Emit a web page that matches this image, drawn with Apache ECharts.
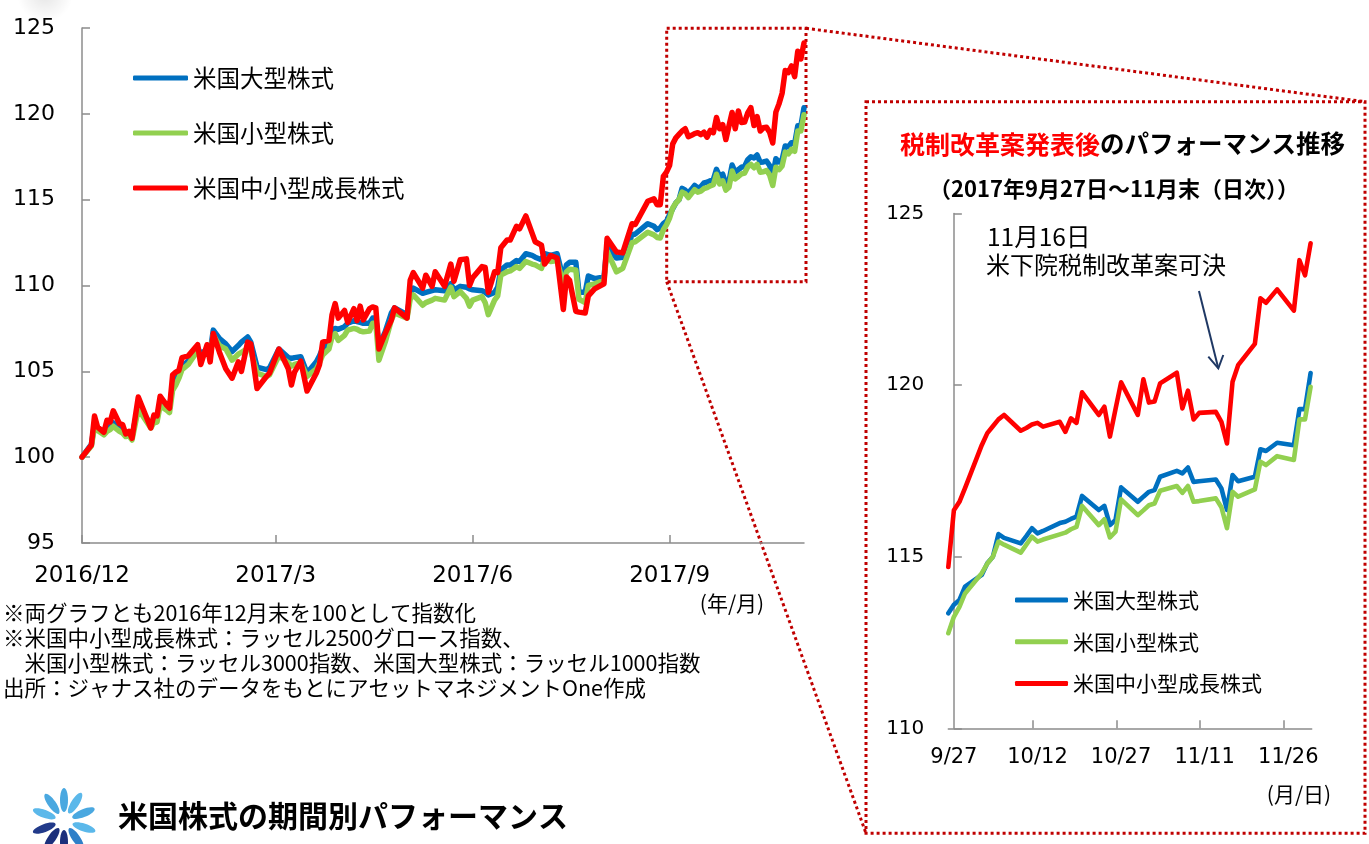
<!DOCTYPE html>
<html>
<head>
<meta charset="utf-8">
<script src="https://cdn.jsdelivr.net/npm/echarts@6/dist/echarts.min.js"></script>
<style>
  html, body { margin: 0; padding: 0; background: #fff; }
  #chart { width: 1369px; height: 844px; }
</style>
</head>
<body>
<div id="chart"></div>
<script>
const seriesNames = ['米国大型株式', '米国小型株式', '米国中小型成長株式'];
const seriesColors = ['#0070C0', '#92D050', '#FF0000'];

// left chart: x = trading-day index counted from 2016/12 end
const mainTickIdx = [0, 62, 125, 188];
const mainTickLabels = ['2016/12', '2017/3', '2017/6', '2017/9'];
const mainIdx = [0, 3, 4, 5, 7, 8, 9, 10, 12, 13, 14, 15, 16, 18, 22, 23, 24, 25, 27, 28, 29, 30, 31, 32, 34, 37, 38, 40, 41, 42,
  44, 46, 48, 50, 51, 53, 54, 56, 59, 60, 63, 66, 67, 68, 70, 72, 75, 76, 77, 79, 80, 81, 82, 84, 85, 87, 88, 89, 90, 92,
  93, 94, 95, 97, 99, 100, 104, 105, 106, 109, 110, 112, 113, 116, 118, 119, 121, 123, 124, 125, 128, 129, 130, 132, 133, 134, 136, 137, 139, 140,
  142, 144, 145, 147, 148, 150, 152, 154, 155, 156, 158, 159, 161, 162, 164, 167, 168, 171, 173, 176, 177, 181, 183, 184];
const mainLarge = [100.0, 100.75, 101.9, 101.7, 101.5, 101.75, 101.8, 102.0, 101.65, 101.6, 101.4, 101.45, 101.2, 103.0, 101.9, 102.2, 102.3, 103.2, 103.0, 102.9, 104.2, 104.5, 104.8, 105.3, 105.6, 106.4, 106.0, 106.3, 106.1, 107.4,
  106.9, 106.6, 106.15, 106.5, 106.7, 107.0, 106.7, 105.25, 105.1, 105.2, 106.3, 105.8, 105.75, 105.8, 105.85, 104.9, 105.55, 105.9, 106.35, 106.6, 107.4, 107.5, 107.45, 107.6, 107.8, 107.95, 107.9, 107.85, 107.8, 107.8,
  108.1, 108.1, 106.45, 107.3, 108.4, 108.7, 108.3, 109.5, 109.85, 109.55, 109.6, 109.7, 109.75, 109.7, 110.1, 109.75, 109.95, 109.9, 109.8, 109.75, 109.7, 109.6, 109.45, 109.6, 109.9, 110.9, 111.2, 111.2, 111.45, 111.4,
  111.85, 111.75, 111.65, 111.5, 111.85, 111.75, 111.85, 110.35, 111.2, 111.35, 111.35, 109.6, 109.6, 110.55, 110.4, 110.5, 112.3, 111.6, 111.65, 112.95, 113.0, 113.6, 113.45, 113.25];
const mainSmall = [100.0, 100.65, 101.75, 101.55, 101.3, 101.5, 101.6, 101.8, 101.5, 101.4, 101.2, 101.25, 101.0, 102.8, 101.7, 102.0, 102.05, 103.0, 102.75, 102.6, 103.9, 104.2, 104.6, 105.1, 105.4, 106.2, 105.8, 106.1, 105.9, 107.1,
  106.5, 106.3, 105.65, 106.0, 106.1, 106.35, 106.2, 104.9, 104.7, 104.8, 105.9, 105.5, 105.3, 105.4, 105.5, 104.7, 105.15, 105.5, 105.95, 106.3, 107.0, 107.2, 106.8, 107.1, 107.4, 107.5, 107.45, 107.35, 107.3, 107.35,
  107.8, 107.8, 105.65, 106.7, 108.0, 108.4, 108.1, 109.2, 109.45, 108.85, 109.0, 109.15, 109.25, 109.15, 109.9, 109.35, 109.65, 109.25, 108.8, 109.15, 109.35, 109.0, 108.3, 109.15, 109.4, 110.6, 110.8, 110.85, 111.1, 111.0,
  111.4, 111.25, 111.2, 111.0, 111.55, 111.4, 111.45, 110.1, 110.8, 110.95, 110.9, 109.2, 109.0, 110.0, 110.1, 110.3, 112.0, 110.8, 111.0, 112.5, 112.55, 113.1, 112.95, 112.8];
const mainGrowth = [100.0, 100.7, 102.4, 101.75, 101.45, 102.15, 102.05, 102.7, 101.95, 101.9, 101.35, 101.5, 101.1, 103.5, 101.7, 102.45, 102.4, 103.55, 103.05, 102.85, 104.8, 104.95, 105.05, 105.8, 105.9, 106.55, 105.4, 106.55, 105.55, 107.2,
  106.1, 105.15, 104.6, 105.55, 105.0, 106.7, 106.6, 104.0, 104.7, 104.9, 106.3, 105.15, 104.2, 104.95, 105.6, 103.85, 104.9, 105.4, 106.7, 106.8, 108.3, 108.95, 108.1, 108.55, 107.85, 108.65, 107.95, 108.8, 108.0, 108.65,
  108.75, 108.7, 106.3, 107.2, 108.0, 108.7, 108.1, 110.3, 110.75, 109.85, 110.6, 109.95, 110.8, 109.95, 111.25, 110.25, 111.5, 111.55, 110.0, 110.45, 111.1, 111.05, 109.6, 110.8, 110.75, 112.2, 112.65, 112.65, 113.45, 113.3,
  114.05, 113.05, 112.55, 112.35, 111.25, 111.75, 111.6, 108.6, 110.5, 110.3, 108.5, 108.45, 108.4, 109.4, 109.8, 110.1, 112.75, 111.95, 111.9, 113.6, 113.55, 114.9, 115.05, 114.7];

// right chart: daily closes from 9/26 to 11/30 (trading days)
const zoomDates = ['9/26', '9/27', '9/28', '9/29', '10/2', '10/3', '10/4', '10/5', '10/6', '10/9', '10/10', '10/11', '10/12', '10/13',
  '10/16', '10/17', '10/18', '10/19', '10/20', '10/23', '10/24', '10/25', '10/26', '10/27', '10/30', '10/31', '11/1', '11/2', '11/3',
  '11/6', '11/7', '11/8', '11/9', '11/10', '11/13', '11/14', '11/15', '11/16', '11/17', '11/20', '11/21', '11/22', '11/24',
  '11/27', '11/28', '11/29', '11/30'];
const zoomLarge = [113.35, 113.6, 113.74, 114.13, 114.47, 114.81, 115.0, 115.66, 115.55, 115.39, 115.6, 115.83, 115.68, 115.75,
  115.98, 116.02, 116.1, 116.17, 116.77, 116.36, 116.48, 115.92, 116.07, 117.02, 116.6, 116.75, 116.89, 116.94, 117.33,
  117.5, 117.43, 117.6, 117.18, 117.2, 117.25, 116.99, 116.36, 117.38, 117.2, 117.33, 118.13, 118.08, 118.32,
  118.25, 119.3, 119.3, 120.35];
const zoomSmall = [112.77, 113.25, 113.54, 113.93, 114.52, 114.8, 115.0, 115.44, 115.35, 115.12, 115.35, 115.58, 115.44, 115.5,
  115.65, 115.7, 115.8, 115.87, 116.48, 115.92, 116.09, 115.56, 115.73, 116.67, 116.21, 116.35, 116.5, 116.55, 116.92,
  117.06, 116.86, 117.06, 116.6, 116.62, 116.7, 116.44, 115.83, 116.89, 116.75, 116.96, 117.77, 117.67, 117.93,
  117.82, 119.0, 119.0, 119.95];
const zoomGrowth = [114.7, 116.35, 116.6, 117.0, 118.25, 118.6, 118.8, 119.0, 119.13, 118.67, 118.75, 118.85, 118.9, 118.79,
  118.93, 118.64, 119.03, 118.9, 119.79, 119.13, 119.37, 118.5, 119.3, 120.08, 119.13, 120.17, 119.49, 119.52, 120.05,
  120.36, 119.32, 119.84, 119.0, 119.19, 119.22, 118.93, 118.3, 120.1, 120.58, 121.2, 122.53, 122.4, 122.79,
  122.17, 123.64, 123.2, 124.13];
const zoomTickLabels = ['9/27', '10/12', '10/27', '11/11', '11/26'];
const zoomFirstIdx = 185; // 9/26 on the left chart's trading-day index

const notes = [
  '※両グラフとも2016年12月末を100として指数化',
  '※米国中小型成長株式：ラッセル2500グロース指数、',
  '　米国小型株式：ラッセル3000指数、米国大型株式：ラッセル1000指数',
  '出所：ジャナス社のデータをもとにアセットマネジメントOne作成'
];

function dayOffset(md) {
  const [m, d] = md.split('/').map(Number);
  return Math.round((Date.UTC(2017, m - 1, d) - Date.UTC(2017, 8, 27)) / 86400000);
}

const zoomDays = zoomDates.map(dayOffset);
const zoomTickDays = zoomTickLabels.map(dayOffset);
const tailIdx = zoomDates.map((_, k) => zoomFirstIdx + k);

const mainData = [mainLarge, mainSmall, mainGrowth].map((vals, s) => {
  const zoomVals = [zoomLarge, zoomSmall, zoomGrowth][s];
  return mainIdx.map((x, k) => [x, vals[k]]).concat(tailIdx.map((x, k) => [x, zoomVals[k]]));
});
const zoomData = [zoomLarge, zoomSmall, zoomGrowth].map(vals => zoomDays.map((d, k) => [d, vals[k]]));

const JP = '"Noto Sans CJK JP", "Noto Sans CJK SC", sans-serif';
const NUM = '"DejaVu Sans", Verdana, sans-serif';
const AXIS = '#8c8c8c';
const DOT = '#C00000';

const chart = echarts.init(document.getElementById('chart'));

function lineSeries(i, gridIdx, data, width) {
  return {
    name: seriesNames[i], type: 'line', xAxisIndex: gridIdx, yAxisIndex: gridIdx,
    data, showSymbol: false, symbol: 'none', silent: true, clip: true,
    color: seriesColors[i],
    lineStyle: { color: seriesColors[i], width, cap: 'round', join: 'round' },
  };
}

// logo petals: angle (deg, clockwise from up) and colour
const petals = [
  [0, '#4aa8e0'], [32, '#5bb8ea'], [68, '#4aa8e0'], [108, '#5bb8ea'], [145, '#2f7fc8'],
  [180, '#1b2f7c'], [215, '#1b2f7c'], [250, '#223a8a'], [290, '#5bb8ea'], [325, '#4aa8e0'],
];

const textEl = (text, x, y, font, fill, align) => ({
  type: 'text', silent: true,
  style: { text, x, y, font, fill: fill || '#000', textAlign: align || 'left', align: align || 'left',
    textVerticalAlign: 'middle', verticalAlign: 'middle' },
});

const graphics = [
  // faint shadow in top-left corner
  { type: 'ellipse', silent: true, shape: { cx: 45, cy: -6, rx: 80, ry: 28 },
    style: { fill: { type: 'radial', x: 0.5, y: 0.5, r: 0.5,
      colorStops: [{ offset: 0, color: 'rgba(0,0,0,0.10)' }, { offset: 1, color: 'rgba(0,0,0,0)' }] } } },
  // dotted zoom box and connectors
  { type: 'rect', silent: true, shape: { x: 666.7, y: 28.3, width: 139.3, height: 253.4 },
    style: { fill: 'none', stroke: DOT, lineWidth: 3, lineDash: [3, 3] } },
  { type: 'rect', silent: true, shape: { x: 866, y: 101.7, width: 499, height: 731.6 },
    style: { fill: 'none', stroke: DOT, lineWidth: 3, lineDash: [3, 3] } },
  { type: 'line', silent: true, shape: { x1: 806, y1: 28.3, x2: 1365, y2: 101.7 },
    style: { stroke: DOT, lineWidth: 3, lineDash: [3, 3] } },
  { type: 'line', silent: true, shape: { x1: 666.7, y1: 281.7, x2: 866, y2: 833.3 },
    style: { stroke: DOT, lineWidth: 3, lineDash: [3, 3] } },
  // right panel titles
  textEl('税制改革案発表後', 1100, 144, 'bold 25px ' + JP, '#FF0000', 'right'),
  textEl('のパフォーマンス推移', 1100, 144, 'bold 24.5px ' + JP, '#000', 'left'),
  textEl('（2017年9月27日～11月末（日次））', 1114, 189, 'bold 22px ' + JP, '#000', 'center'),
  // annotation
  textEl('11月16日', 987, 237, '24.5px ' + JP),
  textEl('米下院税制改革案可決', 986, 265, '24px ' + JP),
  { type: 'line', silent: true, shape: { x1: 1199, y1: 291, x2: 1218.3, y2: 368.3 },
    style: { stroke: '#1F3864', lineWidth: 2 } },
  { type: 'polyline', silent: true, shape: { points: [[1208.3, 356.7], [1218.3, 368.3], [1223.3, 355]] },
    style: { stroke: '#1F3864', lineWidth: 2, fill: 'none' } },
  // axis units
  textEl('(年/月)', 732, 603, '21px ' + JP, '#000', 'center'),
  textEl('(月/日)', 1299, 794, '21px ' + JP, '#000', 'center'),
  // notes
  ...notes.map((t, k) => textEl(t, 3, 613 + k * 25, '21.5px ' + JP)),
  // bottom heading with logo
  textEl('米国株式の期間別パフォーマンス', 118, 816, 'bold 30px ' + JP),
  { type: 'group', x: 64, y: 821, silent: true,
    children: petals.map(([deg, c]) => ({
      type: 'ellipse', rotation: -deg * Math.PI / 180,
      shape: { cx: 0, cy: -21, rx: 4, ry: 12 },
      style: { fill: c },
    })) },
];

chart.setOption({
  animation: false,
  backgroundColor: '#fff',
  grid: [
    { left: 82, top: 28, width: 722, height: 515 },
    { left: 948.3, top: 213.5, width: 363.4, height: 514.8 },
  ],
  xAxis: [
    {
      type: 'value', gridIndex: 0, min: 0, max: 231,
      axisLine: { show: true, onZero: false, lineStyle: { color: AXIS, width: 1.5 } },
      axisTick: { show: true, inside: true, length: 8, customValues: mainTickIdx, lineStyle: { color: AXIS, width: 1.5 } },
      axisLabel: {
        customValues: mainTickIdx, margin: 22, color: '#000', fontSize: 23, fontFamily: NUM,
        formatter: (v) => mainTickLabels[mainTickIdx.indexOf(v)] || '',
      },
      splitLine: { show: false },
    },
    {
      type: 'value', gridIndex: 1, min: -1, max: 64.2,
      axisLine: { show: true, onZero: false, lineStyle: { color: AXIS, width: 1.5 } },
      axisTick: { show: true, inside: true, length: 8, customValues: zoomTickDays.slice(1).map(d => d - 0.8), lineStyle: { color: AXIS, width: 1.5 } },
      axisLabel: {
        customValues: zoomTickDays, margin: 19, color: '#000', fontSize: 21, fontFamily: NUM,
        formatter: (v) => zoomTickLabels[zoomTickDays.indexOf(v)] || '',
      },
      splitLine: { show: false },
    },
  ],
  yAxis: [
    {
      type: 'value', gridIndex: 0, min: 95, max: 125, interval: 5,
      axisLine: { show: true, lineStyle: { color: AXIS, width: 1.5 } },
      axisTick: { show: true, inside: true, length: 8, lineStyle: { color: AXIS, width: 1.5 } },
      axisLabel: { margin: 27, color: '#000', fontSize: 22, fontFamily: NUM },
      splitLine: { show: false },
    },
    {
      type: 'value', gridIndex: 1, min: 110, max: 125, interval: 5,
      axisLine: { show: true, lineStyle: { color: AXIS, width: 1.5 } },
      axisTick: { show: true, inside: true, length: 8, lineStyle: { color: AXIS, width: 1.5 } },
      axisLabel: { margin: 24, color: '#000', fontSize: 20, fontFamily: NUM },
      splitLine: { show: false },
    },
  ],
  legend: [
    {
      orient: 'vertical', left: 133, top: 66, padding: 0, itemWidth: 55, itemHeight: 5, itemGap: 31,
      icon: 'roundRect', selectedMode: false, data: seriesNames,
      textStyle: { fontSize: 23.5, lineHeight: 24, color: '#000', fontFamily: JP },
    },
    {
      orient: 'vertical', left: 1015, top: 589, padding: 0, itemWidth: 53, itemHeight: 5, itemGap: 19.7,
      icon: 'roundRect', selectedMode: false, data: seriesNames,
      textStyle: { fontSize: 21, lineHeight: 22, color: '#000', fontFamily: JP },
    },
  ],
  graphic: graphics,
  series: [
    ...mainData.map((d, i) => lineSeries(i, 0, d, 5.5)),
    ...zoomData.map((d, i) => lineSeries(i, 1, d, 4.6)),
  ],
});
</script>
</body>
</html>
